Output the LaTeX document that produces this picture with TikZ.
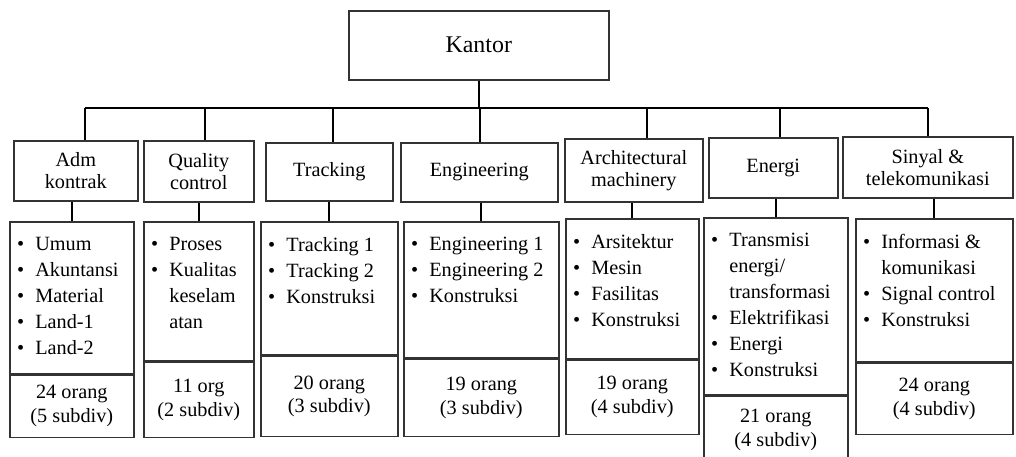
\documentclass[tikz,border=0pt]{standalone}
\usepackage{fontspec}
\setmainfont{Liberation Serif}
\usetikzlibrary{positioning,calc}
\newcommand{\bl}{\makebox[13pt][l]{\textbullet}}
\newcommand{\ct}{\hspace*{13pt}}
\tikzset{
  head/.style={rectangle, draw=black!80, line width=1.1pt, anchor=north west, inner sep=0pt, align=center, font=\fontsize{14.4}{15.5}\selectfont},
  top/.style={head, font=\fontsize{17}{19}\selectfont},
  listbox/.style={rectangle, draw=black!80, line width=1.1pt, anchor=north west, inner sep=0pt},
  items/.style={anchor=north west, align=left, inner sep=2pt, font=\fontsize{14.4}{18.5}\selectfont},
  countbox/.style={rectangle, draw=black!80, line width=1.1pt, anchor=north, inner sep=0pt, align=center, font=\fontsize{14.4}{17}\selectfont},
  link/.style={draw=black, line width=1.2pt}
}
\begin{document}
\begin{tikzpicture}[x=0.025cm, y=-0.025cm]
  \useasboundingbox (0,0) rectangle (1016,456);
  % kantor
  \node[top, minimum width=6.5cm, minimum height=1.725cm] (kantor) at (348,10) {Kantor};
  % bagian
  \node[head, minimum width=3.1cm, minimum height=1.5cm] (adm) at (13,140) {Adm\\kontrak};
  \node[head, minimum width=2.75cm, minimum height=1.525cm] (qual) at (143,140) {Quality\\control};
  \node[head, minimum width=3.175cm, minimum height=1.45cm] (track) at (265,142) {Tracking};
  \node[head, minimum width=3.925cm, minimum height=1.475cm] (eng) at (400,142) {Engineering};
  \node[head, minimum width=3.45cm, minimum height=1.575cm] (arch) at (564,138) {Architectural\\machinery};
  \node[head, minimum width=3.225cm, minimum height=1.5cm] (ener) at (708,137) {Energi};
  \node[head, minimum width=4.25cm, minimum height=1.525cm] (sin) at (842,136) {Sinyal \&\\telekomunikasi};
  % subdiv
  \node[listbox, minimum width=3.1cm, minimum height=3.8cm] (admL) at (9,221) {};
  \node[listbox, minimum width=2.75cm, minimum height=3.475cm] (qualL) at (143,221) {};
  \node[listbox, minimum width=3.425cm, minimum height=3.325cm] (trackL) at (260,221) {};
  \node[listbox, minimum width=3.875cm, minimum height=3.4cm] (engL) at (403,221) {};
  \node[listbox, minimum width=3.325cm, minimum height=3.5cm] (archL) at (565,218) {};
  \node[listbox, minimum width=3.6cm, minimum height=4.425cm] (enerL) at (703,217) {};
  \node[listbox, minimum width=3.925cm, minimum height=3.575cm] (sinL) at (855,218) {};
  \node[items] at ([shift={(5,13)}]admL.north west) {\bl Umum\\\bl Akuntansi\\\bl Material\\\bl Land-1\\\bl Land-2};
  \node[items] at ([shift={(5,13)}]qualL.north west) {\bl Proses\\\bl Kualitas\\\ct keselam\\\ct atan};
  \node[items] at ([shift={(5,13)}]trackL.north west) {\bl Tracking 1\\\bl Tracking 2\\\bl Konstruksi};
  \node[items] at ([shift={(5,13)}]engL.north west) {\bl Engineering 1\\\bl Engineering 2\\\bl Konstruksi};
  \node[items] at ([shift={(5,13)}]archL.north west) {\bl Arsitektur\\\bl Mesin\\\bl Fasilitas\\\bl Konstruksi};
  \node[items] at ([shift={(5,13)}]enerL.north west) {\bl Transmisi\\\ct energi/\\\ct transformasi\\\bl Elektrifikasi\\\bl Energi\\\bl Konstruksi};
  \node[items] at ([shift={(5,13)}]sinL.north west) {\bl Informasi \&\\\ct komunikasi\\\bl Signal control\\\bl Konstruksi};
  % jumlah orang
  \node[countbox, minimum width=3.1cm, minimum height=1.55cm] (admC) at (admL.south) {24 orang\\(5 subdiv)};
  \node[countbox, minimum width=2.75cm, minimum height=1.875cm] (qualC) at (qualL.south) {11 org\\(2 subdiv)};
  \node[countbox, minimum width=3.425cm, minimum height=2cm] (trackC) at (trackL.south) {20 orang\\(3 subdiv)};
  \node[countbox, minimum width=3.875cm, minimum height=1.925cm] (engC) at (engL.south) {19 orang\\(3 subdiv)};
  \node[countbox, minimum width=3.325cm, minimum height=1.85cm] (archC) at (archL.south) {19 orang\\(4 subdiv)};
  \node[countbox, minimum width=3.6cm, minimum height=1.7cm] (enerC) at (enerL.south) {21 orang\\(4 subdiv)};
  \node[countbox, minimum width=3.925cm, minimum height=1.775cm] (sinC) at (sinL.south) {24 orang\\(4 subdiv)};
  % garis
  \coordinate (busA) at (85,108); \coordinate (busB) at (205,108); \coordinate (busC) at (333,108);
  \coordinate (busD) at (480,108); \coordinate (busE) at (647,108); \coordinate (busF) at (780,108);
  \coordinate (busG) at (928,108);
  \draw[link] (kantor.south) -- (kantor.south |- busD);
  \draw[link] (busA) -- (busG);
  \draw[link] (busA) -- (busA |- adm.north); \draw[link] (busB) -- (busB |- qual.north);
  \draw[link] (busC) -- (busC |- track.north); \draw[link] (busD) -- (busD |- eng.north);
  \draw[link] (busE) -- (busE |- arch.north); \draw[link] (busF) -- (busF |- ener.north);
  \draw[link] (busG) -- (busG |- sin.north);
  \draw[link] (admL.north) -- (admL.north |- adm.south); \draw[link] (qualL.north) -- (qualL.north |- qual.south);
  \draw[link] (trackL.north) -- (trackL.north |- track.south); \draw[link] (engL.north) -- (engL.north |- eng.south);
  \draw[link] (archL.north) -- (archL.north |- arch.south); \draw[link] (enerL.north) -- (enerL.north |- ener.south);
  \draw[link] (sinL.north) -- (sinL.north |- sin.south);
\end{tikzpicture}
\end{document}
